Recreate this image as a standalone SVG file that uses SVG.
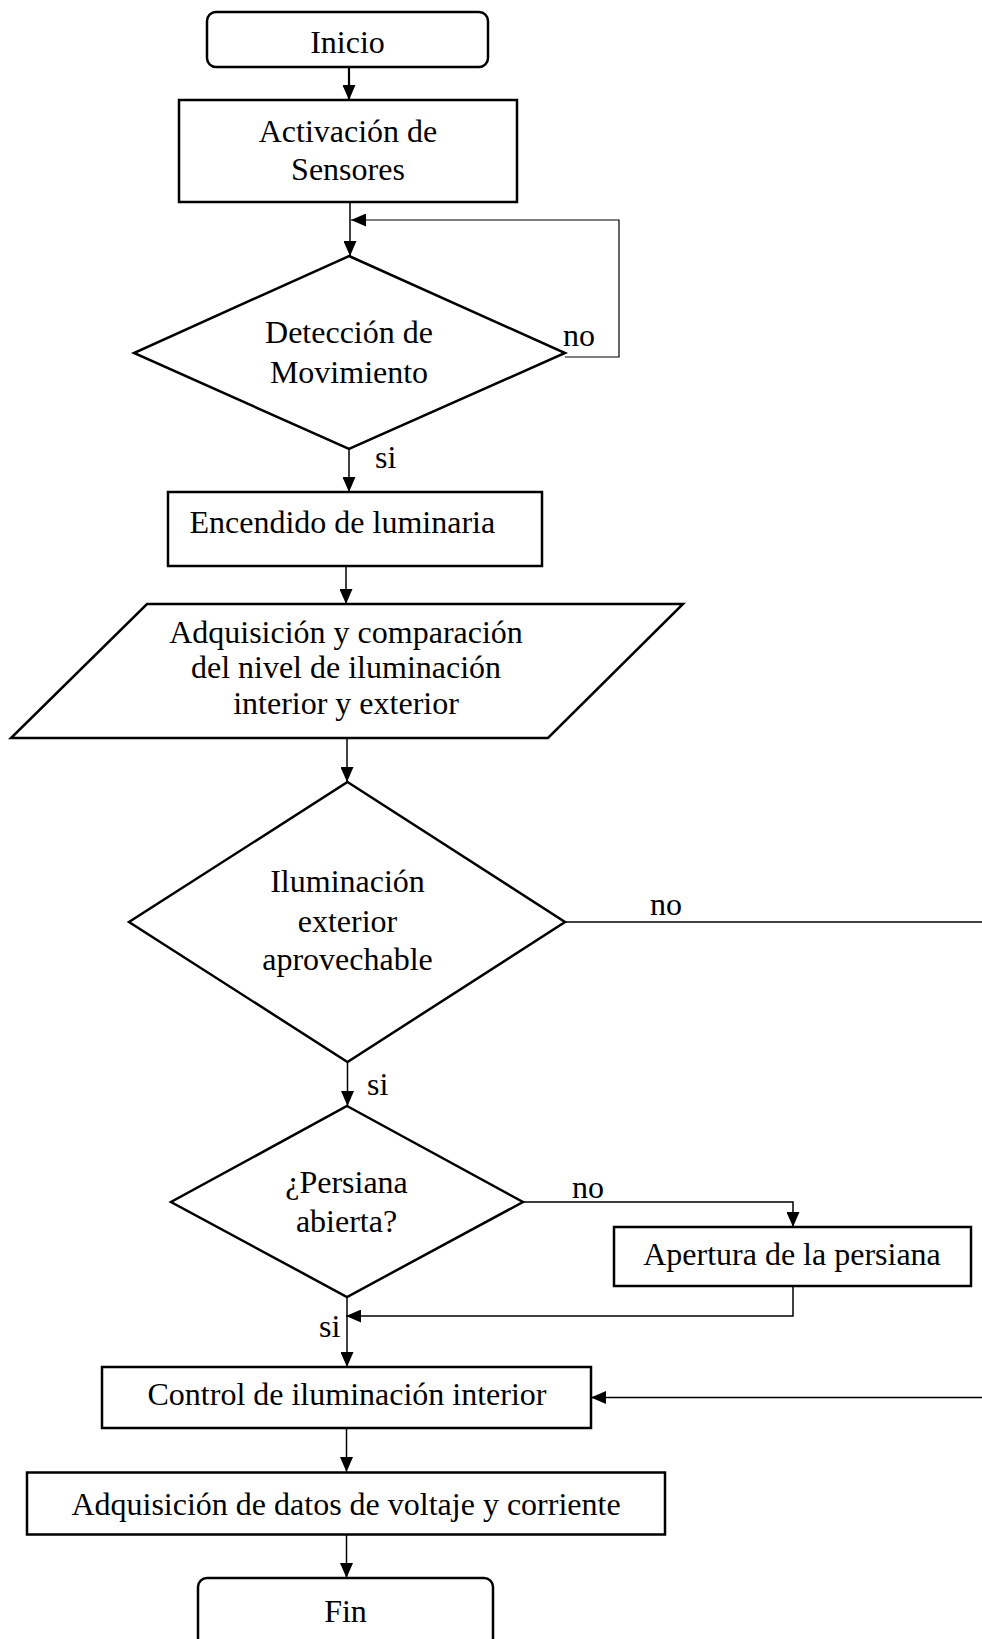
<svg xmlns="http://www.w3.org/2000/svg" width="982" height="1639" viewBox="0 0 982 1639">
  <defs>
    <marker id="arrow" markerUnits="userSpaceOnUse" markerWidth="15" markerHeight="13" refX="15" refY="6.5" orient="auto">
      <path d="M0,0 L15,6.5 L0,13 z" fill="#000"/>
    </marker>
  </defs>
  <style>
    .shape { fill: #fff; stroke: #000; stroke-width: 2.5; }
    .conn { fill: none; stroke: #000; stroke-width: 1.5; }
    .lbl { font-family: "Liberation Serif", "Times New Roman", serif; font-size: 32px; fill: #000; }
    .c { text-anchor: middle; }
  </style>
  <rect width="982" height="1639" fill="#fff"/>

  <!-- connectors -->
  <g id="connectors">
    <line class="conn" x1="349" y1="67" x2="349" y2="100" marker-end="url(#arrow)" style="stroke-width:2.2"/>
    <line class="conn" x1="350" y1="202" x2="350" y2="256" marker-end="url(#arrow)"/>
    <polyline class="conn" points="565,357 619,357 619,220 351,220" marker-end="url(#arrow)" style="stroke-width:1.2"/>
    <line class="conn" x1="349" y1="449" x2="349" y2="492" marker-end="url(#arrow)"/>
    <line class="conn" x1="346" y1="566" x2="346" y2="604" marker-end="url(#arrow)"/>
    <line class="conn" x1="347" y1="738" x2="347" y2="782" marker-end="url(#arrow)"/>
    <line class="conn" x1="347.5" y1="1062" x2="347.5" y2="1106" marker-end="url(#arrow)"/>
    <line class="conn" x1="565" y1="922" x2="982" y2="922"/>
    <line class="conn" x1="982" y1="1397.5" x2="591" y2="1397.5" marker-end="url(#arrow)"/>
    <polyline class="conn" points="523,1202 793,1202 793,1227" marker-end="url(#arrow)"/>
    <polyline class="conn" points="793,1286 793,1316 346,1316" marker-end="url(#arrow)"/>
    <line class="conn" x1="347" y1="1297" x2="347" y2="1367" marker-end="url(#arrow)"/>
    <line class="conn" x1="346.5" y1="1428" x2="346.5" y2="1472" marker-end="url(#arrow)"/>
    <line class="conn" x1="346.5" y1="1535" x2="346.5" y2="1578" marker-end="url(#arrow)"/>

    <text class="lbl" x="563" y="346">no</text>
    <text class="lbl" x="375" y="468">si</text>
    <text class="lbl" x="650" y="915">no</text>
    <text class="lbl" x="367" y="1095">si</text>
    <text class="lbl" x="572" y="1198">no</text>
    <text class="lbl" x="319" y="1337">si</text>
  </g>

  <g id="inicio">
    <rect class="shape" x="207" y="12" width="281" height="55" rx="9"/>
    <text class="lbl c" x="347.5" y="53">Inicio</text>
  </g>

  <g id="activacion">
    <rect class="shape" x="179" y="100" width="338" height="102"/>
    <text class="lbl c" x="348" y="142">Activación de</text>
    <text class="lbl c" x="348" y="180">Sensores</text>
  </g>

  <g id="deteccion">
    <polygon class="shape" points="349,256 565,353 349,449 134,353"/>
    <text class="lbl c" x="349" y="343">Detección de</text>
    <text class="lbl c" x="349" y="383">Movimiento</text>
  </g>

  <g id="encendido">
    <rect class="shape" x="168" y="492" width="374" height="74"/>
    <text class="lbl" x="189.5" y="533">Encendido de luminaria</text>
  </g>

  <g id="adquisicion-iluminacion">
    <polygon class="shape" points="147,604 683,604 548,738 11,738"/>
    <text class="lbl c" x="346" y="643">Adquisición y comparación</text>
    <text class="lbl c" x="346" y="678">del nivel de iluminación</text>
    <text class="lbl c" x="346" y="714">interior y exterior</text>
  </g>

  <g id="iluminacion-exterior">
    <polygon class="shape" points="347.5,782 565,922 347.5,1062 129,922"/>
    <text class="lbl c" x="347.5" y="892">Iluminación</text>
    <text class="lbl c" x="347.5" y="932">exterior</text>
    <text class="lbl c" x="347.5" y="970">aprovechable</text>
  </g>

  <g id="persiana">
    <polygon class="shape" points="347,1106 523,1202 347,1297 171,1202"/>
    <text class="lbl c" x="346.5" y="1193">¿Persiana</text>
    <text class="lbl c" x="346.5" y="1232">abierta?</text>
  </g>

  <g id="apertura">
    <rect class="shape" x="614" y="1227" width="357" height="59"/>
    <text class="lbl c" x="792" y="1265">Apertura de la persiana</text>
  </g>

  <g id="control">
    <rect class="shape" x="102" y="1367" width="489" height="61"/>
    <text class="lbl c" x="347" y="1405">Control de iluminación interior</text>
  </g>

  <g id="adquisicion-datos">
    <rect class="shape" x="27" y="1472.5" width="638" height="62"/>
    <text class="lbl c" x="346" y="1515">Adquisición de datos de voltaje y corriente</text>
  </g>

  <g id="fin">
    <rect class="shape" x="198" y="1578" width="295" height="75" rx="9"/>
    <text class="lbl c" x="345.5" y="1622">Fin</text>
  </g>
</svg>
